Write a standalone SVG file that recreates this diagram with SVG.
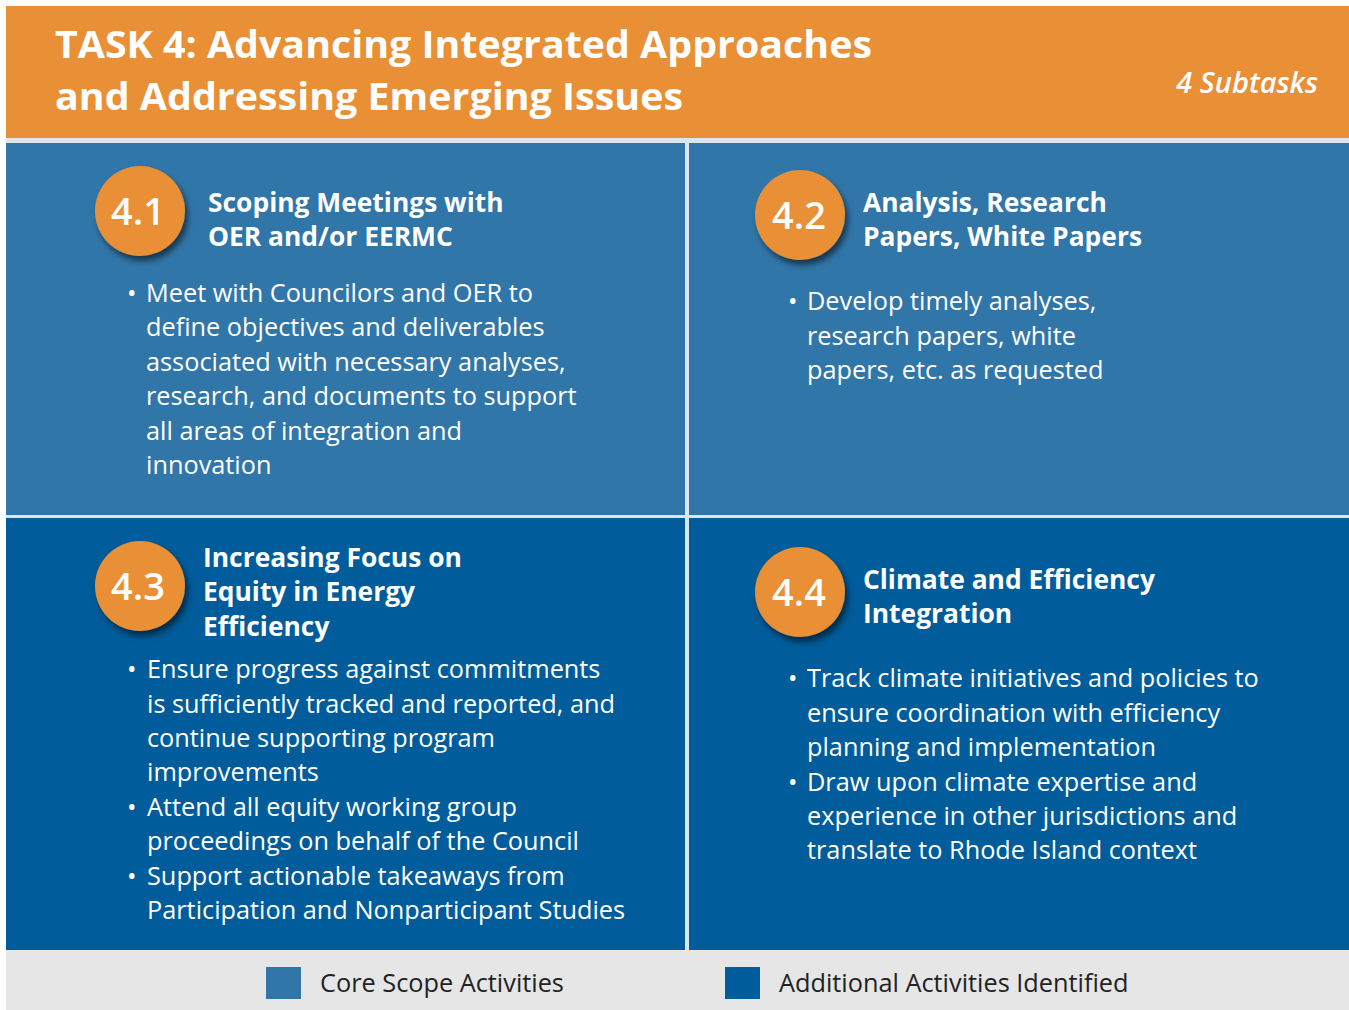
<svg xmlns="http://www.w3.org/2000/svg" width="1349" height="1010" viewBox="0 0 1349 1010">
<defs>
<filter id="sh" x="-30%" y="-30%" width="170%" height="170%">
<feDropShadow dx="3" dy="5" stdDeviation="3" flood-color="#000" flood-opacity="0.55"/>
</filter>
<style>
.title{font-family:"Open Sans","Liberation Sans",sans-serif;font-weight:700;font-size:38px;fill:#fff}
.sub{font-family:"Open Sans","Liberation Sans",sans-serif;font-style:italic;font-weight:600;font-size:29px;fill:#fff}
.num{font-family:"Open Sans","Liberation Sans",sans-serif;font-weight:600;font-size:38px;fill:#fff;text-anchor:middle}
.hd{font-family:"Open Sans","Liberation Sans",sans-serif;font-weight:700;font-size:26.4px;fill:#fff}
.bd{font-family:"Open Sans","Liberation Sans",sans-serif;font-size:25.3px;fill:#fff}
.lg{font-family:"Open Sans","Liberation Sans",sans-serif;font-size:25.3px;fill:#222}
.circ{fill:#E98F36;filter:url(#sh)}
</style>
</defs>
<rect width="1349" height="1010" fill="#fff"/>
<rect x="6" y="138" width="1343" height="812" fill="#dce6ee"/>
<g id="header">
<rect x="6" y="6" width="1343" height="132" fill="#E98F36"/>
<text class="title" x="55" y="58" textLength="817" lengthAdjust="spacingAndGlyphs">TASK 4: Advancing Integrated Approaches</text>
<text class="title" x="55" y="110" textLength="628" lengthAdjust="spacingAndGlyphs">and Addressing Emerging Issues</text>
<text class="sub" x="1318" y="93" text-anchor="end">4 Subtasks</text>
</g>
<g id="task41">
<rect x="6" y="143" width="679" height="372" fill="#3176A9"/>
<circle class="circ" cx="140" cy="211" r="45"/>
<text class="num" x="138" y="225">4.1</text>
<text class="hd" x="208" y="212">Scoping Meetings with</text>
<text class="hd" x="208" y="246">OER and/or EERMC</text>
<text class="bd" x="127" y="302">•</text>
<text class="bd" x="146" y="302">Meet with Councilors and OER to</text>
<text class="bd" x="146" y="336">define objectives and deliverables</text>
<text class="bd" x="146" y="371">associated with necessary analyses,</text>
<text class="bd" x="146" y="405">research, and documents to support</text>
<text class="bd" x="146" y="440">all areas of integration and</text>
<text class="bd" x="146" y="474">innovation</text>
</g>
<g id="task42">
<rect x="689" y="143" width="660" height="372" fill="#3176A9"/>
<circle class="circ" cx="800" cy="215" r="45"/>
<text class="num" x="799" y="229">4.2</text>
<text class="hd" x="863" y="212">Analysis, Research</text>
<text class="hd" x="863" y="246">Papers, White Papers</text>
<text class="bd" x="788" y="310">•</text>
<text class="bd" x="807" y="310">Develop timely analyses,</text>
<text class="bd" x="807" y="345">research papers, white</text>
<text class="bd" x="807" y="379">papers, etc. as requested</text>
</g>
<g id="task43">
<rect x="6" y="518" width="679" height="432" fill="#005C9A"/>
<circle class="circ" cx="140" cy="586" r="45"/>
<text class="num" x="138" y="600">4.3</text>
<text class="hd" x="203" y="567">Increasing Focus on</text>
<text class="hd" x="203" y="601">Equity in Energy</text>
<text class="hd" x="203" y="636">Efficiency</text>
<text class="bd" x="127" y="678">•</text>
<text class="bd" x="147" y="678">Ensure progress against commitments</text>
<text class="bd" x="147" y="713">is sufficiently tracked and reported, and</text>
<text class="bd" x="147" y="747">continue supporting program</text>
<text class="bd" x="147" y="781">improvements</text>
<text class="bd" x="127" y="816">•</text>
<text class="bd" x="147" y="816">Attend all equity working group</text>
<text class="bd" x="147" y="850">proceedings on behalf of the Council</text>
<text class="bd" x="127" y="885">•</text>
<text class="bd" x="147" y="885">Support actionable takeaways from</text>
<text class="bd" x="147" y="919">Participation and Nonparticipant Studies</text>
</g>
<g id="task44">
<rect x="689" y="518" width="660" height="432" fill="#005C9A"/>
<circle class="circ" cx="800" cy="592" r="45"/>
<text class="num" x="799" y="606">4.4</text>
<text class="hd" x="863" y="589">Climate and Efficiency</text>
<text class="hd" x="863" y="623">Integration</text>
<text class="bd" x="788" y="687">•</text>
<text class="bd" x="807" y="687">Track climate initiatives and policies to</text>
<text class="bd" x="807" y="722">ensure coordination with efficiency</text>
<text class="bd" x="807" y="756">planning and implementation</text>
<text class="bd" x="788" y="791">•</text>
<text class="bd" x="807" y="791">Draw upon climate expertise and</text>
<text class="bd" x="807" y="825">experience in other jurisdictions and</text>
<text class="bd" x="807" y="859">translate to Rhode Island context</text>
</g>
<g id="legend">
<rect x="6" y="950" width="1343" height="60" fill="#e6e6e6"/>
<rect x="266" y="967" width="35" height="32" fill="#3176A9"/>
<text class="lg" x="320" y="992">Core Scope Activities</text>
<rect x="725" y="967" width="35" height="32" fill="#005C9A"/>
<text class="lg" x="779" y="992">Additional Activities Identified</text>
</g>
<g id="connectors"></g>
</svg>
